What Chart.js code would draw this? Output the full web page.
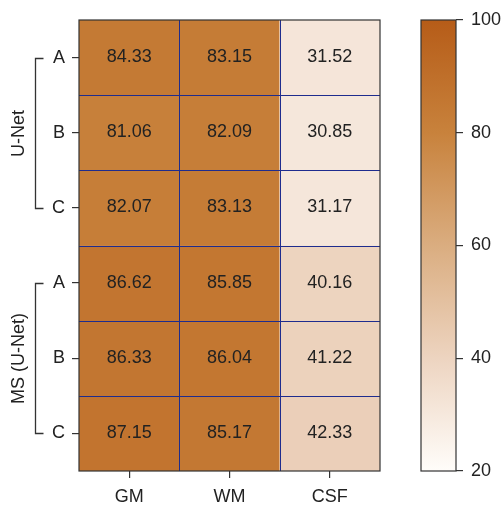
<!DOCTYPE html>
<html>
<head>
<meta charset="utf-8">
<script src="https://cdn.jsdelivr.net/npm/chart.js@4"></script>
<style>
html,body{margin:0;padding:0;background:#fff;}
#wrap{position:relative;width:502px;height:505px;}
#heat{position:absolute;left:0;top:0;}
#bar{position:absolute;left:400px;top:0;}
</style>
</head>
<body>
<div id="wrap">
<canvas id="heat" width="400" height="505"></canvas>
<canvas id="bar" width="102" height="505"></canvas>
</div>
<script>
const columns = ['GM', 'WM', 'CSF'];
const rowLabels = ['A', 'B', 'C', 'A', 'B', 'C'];
const groups = ['U-Net', 'MS (U-Net)'];
const valGM  = [84.33, 81.06, 82.07, 86.62, 86.33, 87.15];
const valWM  = [83.15, 82.09, 83.13, 85.85, 86.04, 85.17];
const valCSF = [31.52, 30.85, 31.17, 40.16, 41.22, 42.33];
const cbTicks = [20, 40, 60, 80, 100];

const FONT = 'Liberation Sans, Arial, Helvetica, sans-serif';
const FS = 18;
const TEXT = '#222';

// colormap stops
const stops = [
  [20, [255, 253, 250]],
  [40, [237, 212, 192]],
  [60, [218, 173, 128]],
  [80, [200, 130, 60]],
  [100, [182, 92, 24]]
];
function cmap(v) {
  if (v <= stops[0][0]) return 'rgb(' + stops[0][1].join(',') + ')';
  for (let i = 1; i < stops.length; i++) {
    if (v <= stops[i][0]) {
      const t = (v - stops[i-1][0]) / (stops[i][0] - stops[i-1][0]);
      const a = stops[i-1][1], b = stops[i][1];
      const c = a.map((x, k) => Math.round(x + (b[k] - x) * t));
      return 'rgb(' + c.join(',') + ')';
    }
  }
  return 'rgb(' + stops[stops.length-1][1].join(',') + ')';
}

const cols = [valGM, valWM, valCSF];
const datasets = rowLabels.map((lab, r) => ({
  label: lab + r,
  data: columns.map(() => 1),
  values: cols.map(c => c[r]),
  backgroundColor: cols.map(c => cmap(c[r])),
  borderWidth: 0,
  barPercentage: 1,
  categoryPercentage: 1,
  stack: 's'
}));

const cellPlugin = {
  id: 'cells',
  afterDatasetsDraw(chart) {
    const ctx = chart.ctx, a = chart.chartArea;
    const xs = chart.scales.x, ys = chart.scales.y;
    ctx.save();
    // inner navy lines
    ctx.strokeStyle = '#1e2c8e';
    ctx.lineWidth = 1;
    ctx.beginPath();
    for (let i = 1; i < rowLabels.length; i++) {
      const y = Math.round(ys.getPixelForValue(i)) + 0.5;
      ctx.moveTo(a.left, y); ctx.lineTo(a.right, y);
    }
    for (let j = 1; j < columns.length; j++) {
      const x = Math.round((xs.getPixelForValue(j - 1) + xs.getPixelForValue(j)) / 2) + 0.5;
      ctx.moveTo(x, a.top); ctx.lineTo(x, a.bottom);
    }
    ctx.stroke();
    // outer border
    ctx.strokeStyle = '#333';
    ctx.lineWidth = 1.2;
    ctx.strokeRect(a.left, a.top, a.right - a.left, a.bottom - a.top);
    // values
    ctx.fillStyle = TEXT;
    ctx.font = FS + 'px ' + FONT;
    ctx.textAlign = 'center';
    ctx.textBaseline = 'middle';
    chart.data.datasets.forEach((ds, di) => {
      const meta = chart.getDatasetMeta(di);
      meta.data.forEach((el, i) => {
        const p = el.getProps(['x', 'y', 'base'], true);
        ctx.fillText(ds.values[i].toFixed(2), p.x, (p.y + p.base) / 2 - 0.5);
      });
    });
    // group brackets and labels
    ctx.strokeStyle = '#333';
    ctx.lineWidth = 1.3;
    groups.forEach((g, gi) => {
      const y1 = Math.round(ys.getPixelForValue(gi * 3 + 0.5)) + 0.5;
      const y2 = Math.round(ys.getPixelForValue(gi * 3 + 2.5)) + 0.5;
      const bx = 35.5;
      ctx.beginPath();
      ctx.moveTo(bx + 8, y1); ctx.lineTo(bx, y1); ctx.lineTo(bx, y2); ctx.lineTo(bx + 8, y2);
      ctx.stroke();
      ctx.save();
      ctx.translate(19, (y1 + y2) / 2);
      ctx.rotate(-Math.PI / 2);
      ctx.fillStyle = TEXT;
      ctx.font = FS + 'px ' + FONT;
      ctx.textAlign = 'center';
      ctx.textBaseline = 'middle';
      ctx.fillText(g, 0, 0);
      ctx.restore();
    });
    ctx.restore();
  }
};

new Chart(document.getElementById('heat'), {
  type: 'bar',
  data: { labels: columns, datasets },
  options: {
    responsive: false,
    animation: false,
    events: [],
    layout: { padding: { top: 20, right: 20, left: 0, bottom: 0 } },
    plugins: { legend: { display: false }, tooltip: { enabled: false } },
    scales: {
      x: {
        stacked: true,
        grid: { display: true, drawOnChartArea: false, tickLength: 7, color: '#333', lineWidth: 1.2, offset: false },
        border: { display: false },
        ticks: { color: TEXT, font: { family: FONT, size: FS }, padding: 8 },
        afterFit(s) { s.height = 34; }
      },
      y: {
        stacked: true,
        reverse: true,
        min: 0,
        max: 6,
        grid: { display: true, drawOnChartArea: false, tickLength: 7, color: '#333', lineWidth: 1.2 },
        border: { display: false },
        afterBuildTicks(s) { s.ticks = rowLabels.map((_, i) => ({ value: i + 0.5 })); },
        ticks: {
          color: TEXT, font: { family: FONT, size: FS }, padding: 7,
          callback(v) { return rowLabels[Math.floor(v)]; }
        },
        afterFit(s) { s.width = 79; }
      }
    }
  },
  plugins: [cellPlugin]
});

// colorbar
const cbPlugin = {
  id: 'cbborder',
  afterDatasetsDraw(chart) {
    const ctx = chart.ctx, a = chart.chartArea;
    ctx.save();
    ctx.strokeStyle = '#333';
    ctx.lineWidth = 1.2;
    ctx.strokeRect(a.left, a.top, a.right - a.left, a.bottom - a.top);
    ctx.restore();
  }
};

new Chart(document.getElementById('bar'), {
  type: 'bar',
  data: {
    labels: ['cb'],
    datasets: [{
      data: [[cbTicks[0], cbTicks[cbTicks.length - 1]]],
      borderWidth: 0,
      barPercentage: 1,
      categoryPercentage: 1,
      backgroundColor(c) {
        const ch = c.chart, a = ch.chartArea;
        if (!a) return '#fff';
        const ys = ch.scales.y;
        const g = ch.ctx.createLinearGradient(0, ys.getPixelForValue(20), 0, ys.getPixelForValue(100));
        stops.forEach(s => g.addColorStop((s[0] - 20) / 80, cmap(s[0])));
        return g;
      }
    }]
  },
  options: {
    responsive: false,
    animation: false,
    events: [],
    layout: { padding: { top: 20, left: 21, right: 0, bottom: 34 } },
    plugins: { legend: { display: false }, tooltip: { enabled: false } },
    scales: {
      x: { display: false },
      y: {
        position: 'right',
        min: 20, max: 100,
        afterBuildTicks(s) { s.ticks = cbTicks.map(v => ({ value: v })); },
        grid: { display: true, drawOnChartArea: false, tickLength: 7, color: '#333', lineWidth: 1.2 },
        border: { display: false },
        ticks: { color: TEXT, font: { family: FONT, size: FS }, padding: 8 },
        afterFit(s) { s.width = 46; }
      }
    }
  },
  plugins: [cbPlugin]
});
</script>
</body>
</html>
